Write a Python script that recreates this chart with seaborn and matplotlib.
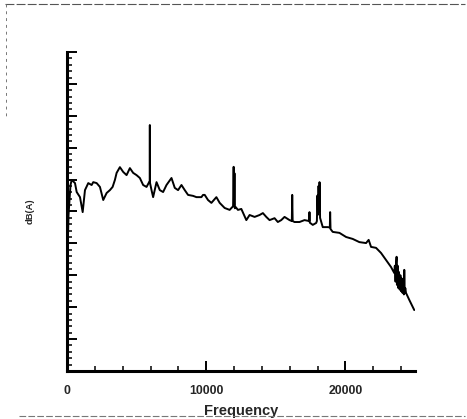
import numpy as np
import pandas as pd
import seaborn as sns
import matplotlib.pyplot as plt
from matplotlib.lines import Line2D
from matplotlib.ticker import MultipleLocator, NullFormatter

# spectrum (Hz, relative dB(A) on a 0-100 scale)
freq = [0, 36, 108, 179, 251, 337, 573, 695, 932, 1125, 1290, 1527, 1770, 1885,
        2129, 2365, 2602, 2846, 3082, 3276, 3441, 3563, 3799, 4036, 4279, 4516,
        4752, 4996, 5233, 5469, 5713, 5899, 5940, 5950, 5960, 6071, 6186, 6430,
        6666, 6903, 7146, 7505, 7741, 7978, 8222, 8458, 8695, 9053, 9297, 9655,
        9770, 9892, 10128, 10372, 10730, 10967, 11325, 11684, 11877, 11930,
        11970, 12000, 12030, 12060, 12114, 12279, 12522, 12881, 13117, 13476,
        13834, 14071, 14315, 14551, 14909, 15146, 15390, 15626, 15985, 16150,
        16178, 16210, 16343, 16702, 17060, 17400, 17418, 17440, 17655, 17898,
        17950, 17990, 18030, 18070, 18110, 18140, 18180, 18372, 18730, 18880,
        18902, 18930, 19089, 19569, 20050, 20523, 21002, 21482, 21669, 21841,
        22200, 22558, 22916, 23275, 23511, 23550, 23600, 23650, 23676, 23700,
        23750, 23800, 23850, 23900, 23950, 24000, 24050, 24100, 24150, 24200,
        24228, 24260, 24300, 24350, 24586, 24945]
level = [25.4, 36.4, 48.9, 53.6, 58.3, 59.9, 58.9, 56.1, 54.5, 49.8, 56.7, 58.9,
         58.3, 59.2, 58.9, 57.7, 53.6, 55.8, 56.7, 57.7, 59.9, 62.1, 63.9, 62.4,
         61.4, 63.6, 62.1, 61.4, 60.5, 58.3, 57.7, 59.2, 59.0, 77.1, 59.0, 56.7,
         54.5, 59.2, 56.7, 56.1, 58.3, 60.5, 57.4, 56.7, 58.3, 56.7, 55.2, 54.9,
         54.5, 54.5, 55.2, 55.2, 53.6, 52.7, 54.5, 52.7, 51.1, 50.5, 51.4, 51.5,
         64.0, 52.0, 62.0, 51.0, 51.4, 50.5, 50.8, 47.3, 48.9, 48.3, 48.9, 49.5,
         48.3, 47.3, 47.9, 46.7, 47.3, 48.3, 47.3, 47.0, 55.2, 47.0, 46.7, 46.7,
         47.3, 47.0, 49.8, 46.5, 45.8, 46.4, 47.0, 55.0, 49.0, 58.0, 50.0, 59.2,
         48.0, 45.1, 45.1, 45.0, 49.8, 44.5, 43.6, 43.3, 42.0, 41.4, 40.4, 40.1,
         41.1, 38.9, 38.6, 37.0, 34.8, 32.6, 30.7, 33.0, 28.0, 34.0, 35.8, 27.0,
         33.0, 26.0, 31.0, 25.5, 30.0, 25.0, 29.0, 24.5, 28.0, 24.0, 31.7, 24.5,
         26.0, 24.5, 22.3, 19.1]

df = pd.DataFrame({"Frequency": freq, "dB(A)": level})

sns.set_style("ticks")
plt.rcParams["font.family"] = ["Liberation Sans", "DejaVu Sans"]

fig = plt.figure(figsize=(4.67, 4.19), dpi=100)
ax = fig.add_axes([0.1435, 0.1146, 0.7452, 0.7613])

sns.lineplot(data=df, x="Frequency", y="dB(A)", ax=ax, color="black",
             linewidth=1.4, sort=False, estimator=None)

ax.set_xlim(0, 25000)
ax.set_ylim(0, 100)
ax.xaxis.set_major_locator(MultipleLocator(10000))
ax.xaxis.set_minor_locator(MultipleLocator(2000))
ax.yaxis.set_major_locator(MultipleLocator(10))
ax.yaxis.set_minor_locator(MultipleLocator(2))
ax.yaxis.set_major_formatter(NullFormatter())

ax.tick_params(axis="both", which="major", direction="in", length=7, width=1.4,
               color="black")
ax.tick_params(axis="both", which="minor", direction="in", length=3.5, width=1.1,
               color="black")
ax.tick_params(axis="x", which="major", labelsize=8.8, pad=10)
for lbl in ax.get_xticklabels():
    lbl.set_fontweight("bold")

for side in ["top", "right"]:
    ax.spines[side].set_visible(False)
for side in ["left", "bottom"]:
    ax.spines[side].set_linewidth(2.2)
    ax.spines[side].set_color("black")

ax.set_xlabel("Frequency", fontsize=10.5, fontweight="bold", labelpad=5)
ax.set_ylabel("dB(A)", fontsize=6.8, fontweight="bold", labelpad=20)

# faint scan frame around the figure
fig.add_artist(Line2D([0.01, 0.995], [0.99, 0.99], transform=fig.transFigure,
                      color="#555555", linewidth=0.8, linestyle=(0, (8, 2))))
fig.add_artist(Line2D([0.012, 0.012], [0.99, 0.72], transform=fig.transFigure,
                      color="#777777", linewidth=0.7, linestyle=(0, (3, 4))))
fig.add_artist(Line2D([0.04, 0.995], [0.007, 0.007], transform=fig.transFigure,
                      color="#777777", linewidth=0.8, linestyle=(0, (6, 2))))

fig.savefig("out.png", dpi=100)
